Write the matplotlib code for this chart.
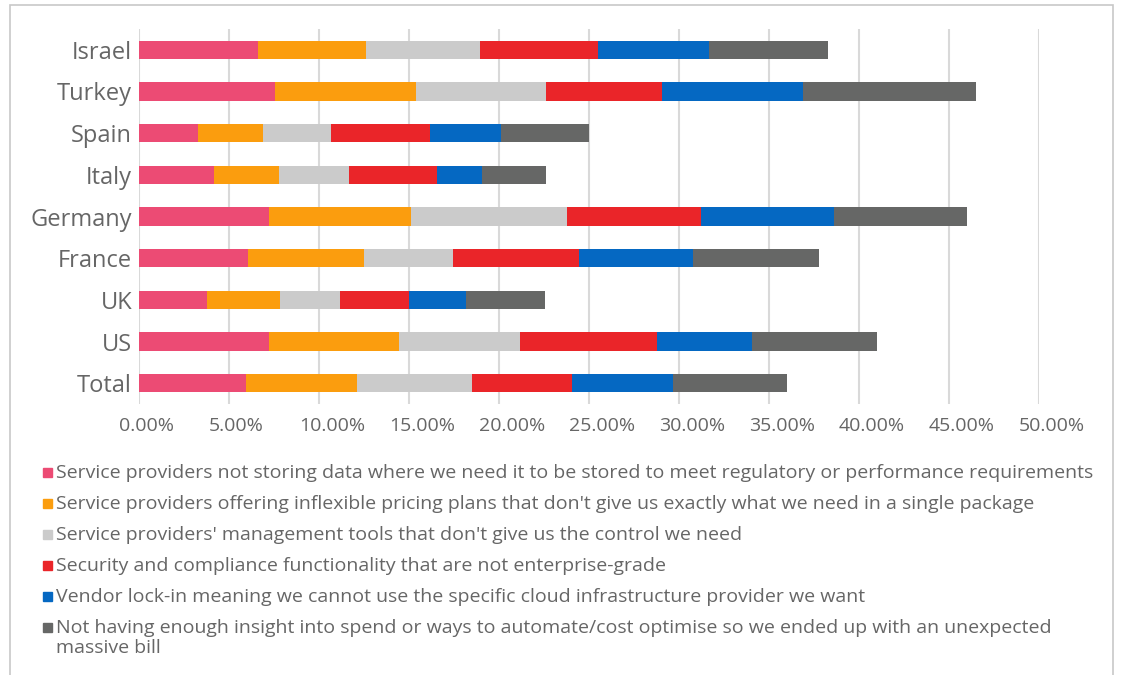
import matplotlib
matplotlib.use("Agg")
import matplotlib.pyplot as plt
from matplotlib.patches import Rectangle
from matplotlib.ticker import PercentFormatter
from matplotlib.transforms import ScaledTranslation
import numpy as np

countries = ["Total", "US", "UK", "France", "Germany", "Italy", "Spain", "Turkey", "Israel"]

not_storing_data = [5.94, 7.22, 3.78, 6.05, 7.22, 4.16, 3.27, 7.55, 6.60]
inflexible_pricing = [6.16, 7.22, 4.05, 6.45, 7.88, 3.61, 3.61, 7.85, 6.00]
management_tools = [6.40, 6.73, 3.34, 4.94, 8.70, 3.90, 3.79, 7.20, 6.35]
security_compliance = [5.53, 7.61, 3.83, 7.00, 7.40, 4.91, 5.48, 6.45, 6.55]
vendor_lock_in = [5.64, 5.28, 3.17, 6.33, 7.40, 2.48, 3.95, 7.85, 6.15]
unexpected_bill = [6.33, 6.94, 4.39, 7.00, 7.40, 3.54, 4.90, 9.60, 6.65]

series_labels = [
    "Service providers not storing data where we need it to be stored to meet regulatory or performance requirements",
    "Service providers offering inflexible pricing plans that don't give us exactly what we need in a single package",
    "Service providers' management tools that don't give us the control we need",
    "Security and compliance functionality that are not enterprise-grade",
    "Vendor lock-in meaning we cannot use the specific cloud infrastructure provider we want",
    "Not having enough insight into spend or ways to automate/cost optimise so we ended up with an unexpected\nmassive bill",
]
series = [not_storing_data, inflexible_pricing, management_tools,
          security_compliance, vendor_lock_in, unexpected_bill]
colors = ["#EC4B74", "#FB9D0E", "#CBCBCB", "#EA2529", "#0568C2", "#666766"]

text_color = "#666666"
plt.rcParams["font.family"] = ["Open Sans", "DejaVu Sans"]

W, H = 1123, 675
fig = plt.figure(figsize=(W / 100, H / 100), dpi=100)
fig.patches.append(Rectangle((10 / W, -0.01), 1103 / W, 1 - 5 / H + 0.01,
                             transform=fig.transFigure, fill=False,
                             edgecolor="#C8C8C8", linewidth=1.2))

ax = fig.add_axes([139 / W, 1 - 404 / H, 900 / W, 375 / H])
y = np.arange(len(countries))
left = np.zeros(len(countries))
for vals, col, lab in zip(series, colors, series_labels):
    vals = np.array(vals) / 100
    ax.barh(y, vals, left=left, height=0.44, color=col, label=lab)
    left += vals

ax.set_xlim(0, 0.5)
ax.set_ylim(-0.5, 8.5)
ax.set_xticks(np.arange(0, 0.51, 0.05))
ax.xaxis.set_major_formatter(PercentFormatter(1.0, decimals=2))
ax.set_yticks(y)
ax.set_yticklabels(countries)
ax.grid(True, axis="x", color="#D9D9D9", linewidth=1.5)
ax.set_axisbelow(True)
for s in ax.spines.values():
    s.set_visible(False)
ax.tick_params(axis="both", length=0, colors=text_color)
ax.tick_params(axis="y", labelsize=17, pad=5)
ax.tick_params(axis="x", labelsize=14, pad=9)
shift = ScaledTranslation(-0.20, 0, fig.dpi_scale_trans)
for t in ax.get_xticklabels():
    t.set_horizontalalignment("left")
    t.set_transform(t.get_transform() + shift)

# legend drawn by hand so the last swatch sits on the first line of its label
row_y = [472, 503, 534, 565, 596, 627]
for ry, col, lab in zip(row_y, colors, series_labels):
    fig.patches.append(Rectangle((43 / W, 1 - (ry + 4.5) / H), 9 / W, 9 / H,
                                 transform=fig.transFigure, color=col))
    fig.text(56 / W, 1 - (ry - 8) / H, lab, fontsize=14, color=text_color,
             va="top", ha="left", linespacing=1.15)

fig.savefig("out.png", dpi=100)
